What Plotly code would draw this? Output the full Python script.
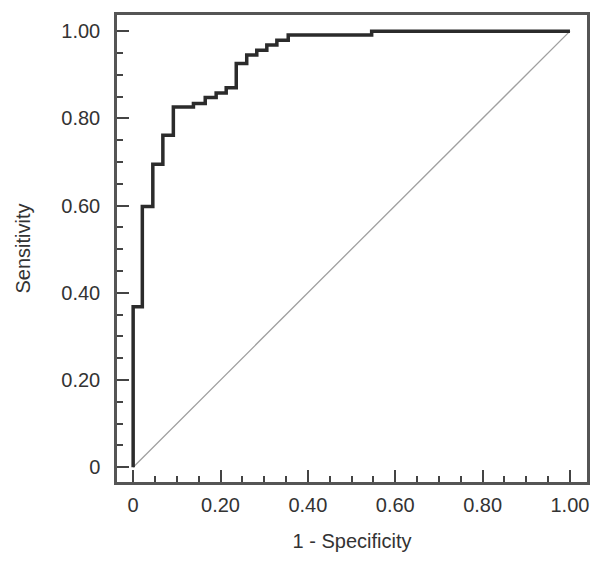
import plotly.graph_objects as go

# ROC step curve vertices (1 - specificity, sensitivity), drawn with vertical-then-horizontal steps
fpr = [0.0, 0.021, 0.045, 0.068, 0.092, 0.138, 0.165, 0.190, 0.213, 0.236,
       0.260, 0.283, 0.306, 0.329, 0.355, 0.546, 1.0]
tpr = [0.0, 0.368, 0.598, 0.695, 0.761, 0.826, 0.834, 0.848, 0.858, 0.870,
       0.926, 0.945, 0.956, 0.968, 0.979, 0.991, 1.0]

ref_x = [0.0, 1.0]
ref_y = [0.0, 1.0]

tick_vals = [0, 0.2, 0.4, 0.6, 0.8, 1.0]
tick_text = ["0", "0.20", "0.40", "0.60", "0.80", "1.00"]

fig = go.Figure()
fig.add_trace(go.Scatter(x=ref_x, y=ref_y, mode="lines",
                         line=dict(color="#a0a0a0", width=1.3), hoverinfo="skip"))
fig.add_trace(go.Scatter(x=fpr, y=tpr, mode="lines", line_shape="vh",
                         line=dict(color="#2b2b2b", width=3.5)))

axis_common = dict(
    showgrid=False, zeroline=False, showline=True, linecolor="#555555", linewidth=2.5,
    mirror=True, ticks="inside", ticklen=12, tickwidth=2, tickcolor="#444444",
    tickvals=tick_vals, ticktext=tick_text,
    tickfont=dict(size=20, color="#333333"),
    minor=dict(ticks="inside", ticklen=6, tickwidth=2, tickcolor="#444444",
               dtick=0.05, tick0=0, showgrid=False),
)

fig.update_xaxes(range=[-0.037, 1.039], title=dict(text="1 - Specificity", standoff=20,
                 font=dict(size=20, color="#333333")), ticklabelstandoff=3, **axis_common)
fig.update_yaxes(range=[-0.034, 1.037], title=dict(text="Sensitivity", standoff=26,
                 font=dict(size=20, color="#333333")), ticklabelstandoff=10, **axis_common)

fig.update_layout(
    width=602, height=564,
    margin=dict(l=117, r=15, t=15, b=82),
    paper_bgcolor="white", plot_bgcolor="white",
    showlegend=False,
    font=dict(family="Liberation Sans, Arial, sans-serif", size=20, color="#333333"),
)

fig.write_html("out.html")
